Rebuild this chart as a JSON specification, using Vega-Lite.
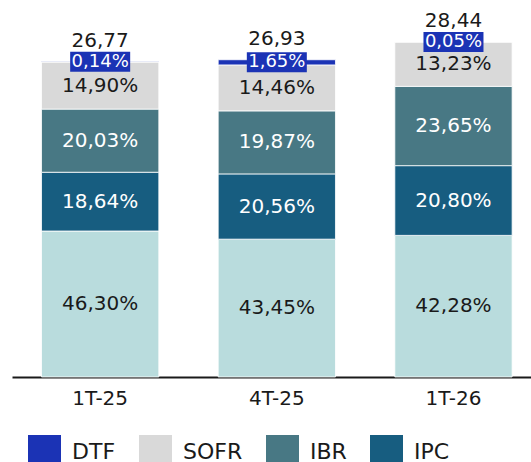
{
  "$schema": "https://vega.github.io/schema/vega-lite/v6.json",
  "width": 519,
  "height": 377,
  "autosize": {"type": "none"},
  "padding": {"left": 12, "top": 0, "right": 0, "bottom": 85},
  "background": "white",
  "config": {"view": {"stroke": null}, "font": "DejaVu Sans"},
  "datasets": {
    "shares": [
      {"period": "1T-25", "series": "Tasa fija", "value": 12.39, "label": "46,30%", "rank": 1},
      {"period": "1T-25", "series": "IPC", "value": 4.99, "label": "18,64%", "rank": 2},
      {"period": "1T-25", "series": "IBR", "value": 5.36, "label": "20,03%", "rank": 3},
      {"period": "1T-25", "series": "SOFR", "value": 3.99, "label": "14,90%", "rank": 4},
      {"period": "1T-25", "series": "DTF", "value": 0.04, "label": "0,14%", "rank": 5},
      {"period": "4T-25", "series": "Tasa fija", "value": 11.70, "label": "43,45%", "rank": 1},
      {"period": "4T-25", "series": "IPC", "value": 5.54, "label": "20,56%", "rank": 2},
      {"period": "4T-25", "series": "IBR", "value": 5.35, "label": "19,87%", "rank": 3},
      {"period": "4T-25", "series": "SOFR", "value": 3.90, "label": "14,46%", "rank": 4},
      {"period": "4T-25", "series": "DTF", "value": 0.44, "label": "1,65%", "rank": 5},
      {"period": "1T-26", "series": "Tasa fija", "value": 12.02, "label": "42,28%", "rank": 1},
      {"period": "1T-26", "series": "IPC", "value": 5.92, "label": "20,80%", "rank": 2},
      {"period": "1T-26", "series": "IBR", "value": 6.73, "label": "23,65%", "rank": 3},
      {"period": "1T-26", "series": "SOFR", "value": 3.76, "label": "13,23%", "rank": 4},
      {"period": "1T-26", "series": "DTF", "value": 0.01, "label": "0,05%", "rank": 5}
    ],
    "totals": [
      {"period": "1T-25", "total": 26.77, "label": "26,77"},
      {"period": "4T-25", "total": 26.93, "label": "26,93"},
      {"period": "1T-26", "total": 28.44, "label": "28,44"}
    ]
  },
  "encoding": {
    "x": {
      "field": "period",
      "type": "nominal",
      "sort": ["1T-25", "4T-25", "1T-26"],
      "scale": {"paddingInner": 0.336, "paddingOuter": 0.137, "align": 0.61},
      "axis": {
        "title": null,
        "labelAngle": 0,
        "labelFontSize": 20,
        "labelColor": "#1a1a1a",
        "ticks": false,
        "tickSize": 0,
        "labelPadding": 11,
        "domainColor": "#1a1a1a",
        "domainWidth": 2
      }
    }
  },
  "layer": [
    {
      "data": {"name": "shares"},
      "transform": [
        {"stack": "value", "groupby": ["period"], "sort": [{"field": "rank", "order": "ascending"}], "as": ["y0", "y1"]}
      ],
      "mark": {"type": "bar", "stroke": "white", "strokeWidth": 0.8},
      "encoding": {
        "y": {"field": "y0", "type": "quantitative", "scale": {"domain": [0, 32], "nice": false}, "axis": null},
        "y2": {"field": "y1"},
        "color": {
          "field": "series",
          "type": "nominal",
          "scale": {
            "domain": ["DTF", "SOFR", "IBR", "IPC", "Tasa fija"],
            "range": ["#1b33b5", "#d9d9d9", "#487884", "#175d80", "#b9dcdd"]
          },
          "legend": {
            "title": null,
            "orient": "none",
            "legendX": 16,
            "legendY": 435,
            "direction": "horizontal",
            "values": ["DTF", "SOFR", "IBR", "IPC"],
            "symbolType": "square",
            "symbolSize": 1089,
            "symbolStrokeWidth": 0,
            "symbolOpacity": 1,
            "labelFontSize": 22,
            "labelOffset": 11,
            "columnPadding": 23,
            "labelColor": "#1a1a1a"
          }
        }
      }
    },
    {
      "data": {"name": "shares"},
      "transform": [
        {"stack": "value", "groupby": ["period"], "sort": [{"field": "rank", "order": "ascending"}], "as": ["y0", "y1"]},
        {"calculate": "(datum.y0 + datum.y1) / 2", "as": "mid"},
        {"filter": "datum.series === 'DTF'"}
      ],
      "mark": {"type": "point", "shape": "M-1.5,-0.5H1.5V0.5H-1.5Z", "size": 1600, "filled": true, "opacity": 1, "color": "#1b33b5"},
      "encoding": {
        "y": {"field": "mid", "type": "quantitative", "scale": {"domain": [0, 32], "nice": false}, "axis": null}
      }
    },
    {
      "data": {"name": "shares"},
      "transform": [
        {"stack": "value", "groupby": ["period"], "sort": [{"field": "rank", "order": "ascending"}], "as": ["y0", "y1"]},
        {"calculate": "(datum.y0 + datum.y1) / 2", "as": "mid"},
        {"filter": "datum.series === 'DTF'"}
      ],
      "mark": {"type": "text", "fontSize": 18, "color": "white", "baseline": "middle"},
      "encoding": {
        "y": {"field": "mid", "type": "quantitative", "scale": {"domain": [0, 32], "nice": false}, "axis": null},
        "text": {"field": "label"}
      }
    },
    {
      "data": {"name": "shares"},
      "transform": [
        {"stack": "value", "groupby": ["period"], "sort": [{"field": "rank", "order": "ascending"}], "as": ["y0", "y1"]},
        {"calculate": "(datum.y0 + datum.y1) / 2", "as": "mid"},
        {"filter": "datum.series !== 'DTF'"}
      ],
      "mark": {"type": "text", "fontSize": 20, "baseline": "middle"},
      "encoding": {
        "y": {"field": "mid", "type": "quantitative", "scale": {"domain": [0, 32], "nice": false}, "axis": null},
        "text": {"field": "label"},
        "color": {
          "condition": {"test": "datum.series === 'IPC' || datum.series === 'IBR'", "value": "white"},
          "value": "#1a1a1a"
        }
      }
    },
    {
      "data": {"name": "totals"},
      "mark": {"type": "text", "fontSize": 20, "baseline": "alphabetic", "dy": -15, "color": "#1a1a1a"},
      "encoding": {
        "y": {"field": "total", "type": "quantitative", "scale": {"domain": [0, 32], "nice": false}, "axis": null},
        "text": {"field": "label"}
      }
    }
  ]
}
